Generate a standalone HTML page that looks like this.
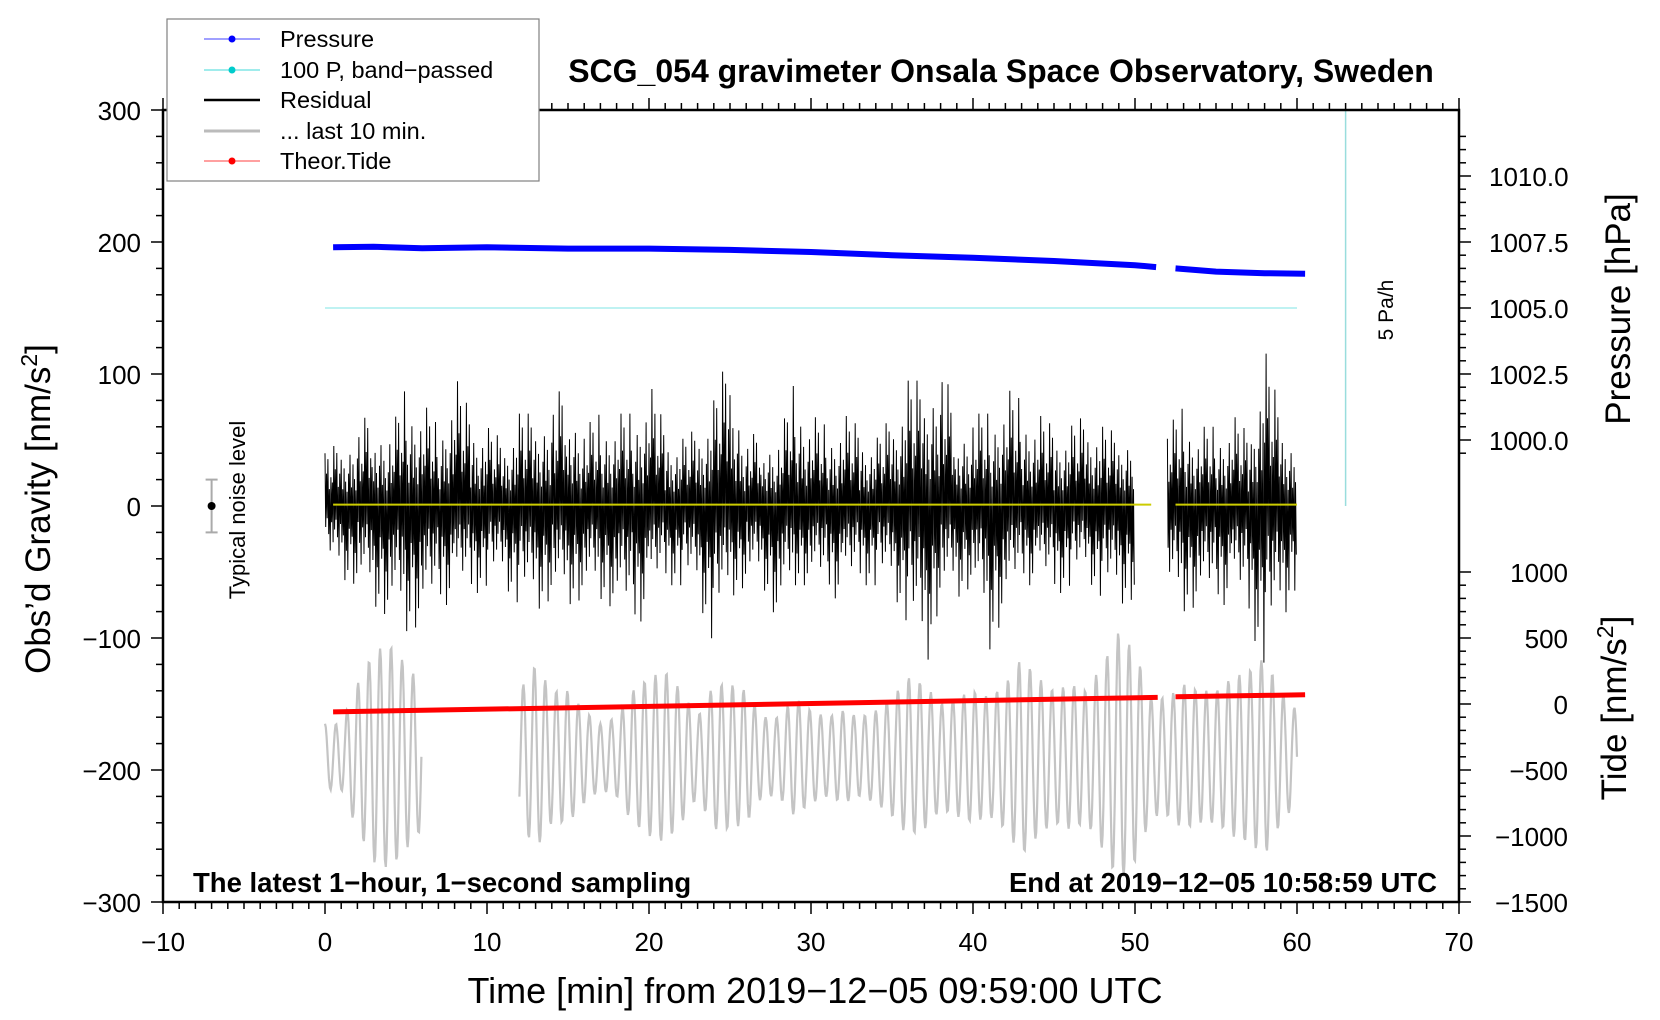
<!DOCTYPE html>
<html><head><meta charset="utf-8">
<style>
html,body{margin:0;padding:0;background:#fff;}
svg{display:block;font-family:"Liberation Sans",sans-serif;}
</style></head>
<body>
<svg id="chart" width="1660" height="1020" viewBox="0 0 1660 1020" xmlns="http://www.w3.org/2000/svg">
<rect width="1660" height="1020" fill="#fff"/>
<g id="marks"></g>
<g id="axes"></g>
<rect x="163" y="110" width="1296" height="792" fill="none" stroke="#000" stroke-width="2.5"/>
<text x="1001" y="82" font-size="32" font-weight="bold" text-anchor="middle">SCG_054 gravimeter Onsala Space Observatory, Sweden</text>
<text x="193" y="892" font-size="27.5" font-weight="bold">The latest 1−hour, 1−second sampling</text>
<text x="1437" y="892" font-size="27.5" font-weight="bold" text-anchor="end">End at 2019−12−05 10:58:59 UTC</text>
<text x="815" y="1003" font-size="36" text-anchor="middle">Time [min] from 2019−12−05 09:59:00 UTC</text>
<text transform="translate(50,509) rotate(-90)" font-size="35" text-anchor="middle">Obs’d Gravity [nm/s<tspan dy="-13" font-size="23">2</tspan><tspan dy="13">]</tspan></text>
<text transform="translate(1630,309) rotate(-90)" font-size="35" text-anchor="middle">Pressure [hPa]</text>
<text transform="translate(1626,708) rotate(-90)" font-size="35" text-anchor="middle">Tide [nm/s<tspan dy="-13" font-size="23">2</tspan><tspan dy="13">]</tspan></text>
<text transform="translate(1393,310) rotate(-90)" font-size="21" text-anchor="middle">5 Pa/h</text>
<text transform="translate(245,510) rotate(-90)" font-size="22" text-anchor="middle">Typical noise level</text>
<g>
<rect x="167" y="19" width="372" height="162" fill="#fff" stroke="#808080" stroke-width="1.2"/>
<g><line x1="204" y1="39" x2="260" y2="39" stroke="#00f" stroke-width="0.8"/><circle cx="232" cy="39" r="3.5" fill="#00f"/><text x="280" y="47" font-size="23.5">Pressure</text></g>
<g><line x1="204" y1="70" x2="260" y2="70" stroke="#0cc" stroke-width="0.8"/><circle cx="232" cy="70" r="3.5" fill="#0cc"/><text x="280" y="78" font-size="23.5">100 P, band−passed</text></g>
<g><line x1="204" y1="100" x2="260" y2="100" stroke="#000" stroke-width="2.5"/><text x="280" y="108" font-size="23.5">Residual</text></g>
<g><line x1="204" y1="131" x2="260" y2="131" stroke="#bbb" stroke-width="3"/><text x="280" y="139" font-size="23.5">... last 10 min.</text></g>
<g><line x1="204" y1="161" x2="260" y2="161" stroke="#f00" stroke-width="0.8"/><circle cx="232" cy="161" r="3.5" fill="#f00"/><text x="280" y="169" font-size="23.5">Theor.Tide</text></g>
</g>
</svg>
<script>
// ---- data ----
const xTicks = [-10,0,10,20,30,40,50,60,70];
const yTicks = [-300,-200,-100,0,100,200,300];
const pressureTicks = [1000.0,1002.5,1005.0,1007.5,1010.0];
const tideTicks = [-1500,-1000,-500,0,500,1000];
// pressure (hPa) at minutes
const pressureTimes = [0.5,3,6,10,15,20,25,30,35,40,45,50,51.3,52.5,55,58,60.5];
const pressureValues = [1007.3,1007.32,1007.26,1007.3,1007.25,1007.25,1007.2,1007.12,1007.0,1006.9,1006.78,1006.62,1006.55,1006.5,1006.38,1006.32,1006.3];
// band-passed pressure (gravity units)
const bandTimes = [0,60];
const bandValues = [150,150];
// residual envelope per minute (upper, lower), NaN = gap
const residMinutes = [0,1,2,3,4,5,6,7,8,9,10,11,12,13,14,15,16,17,18,19,20,21,22,23,24,25,26,27,28,29,30,31,32,33,34,35,36,37,38,39,40,41,42,43,44,45,46,47,48,49,50,51,52,53,54,55,56,57,58,59,60];
const residUpper = [40,50,60,75,55,90,80,60,100,70,60,50,70,70,80,95,60,70,70,70,95,60,50,60,80,120,50,60,50,95,70,60,70,60,50,70,95,95,115,65,70,70,90,80,70,60,60,70,60,55,65,NaN,60,75,60,60,70,55,120,70,50];
const residLower = [-45,-55,-60,-75,-85,-95,-90,-80,-70,-70,-60,-60,-75,-80,-70,-75,-70,-70,-80,-100,-75,-60,-60,-70,-105,-70,-60,-60,-90,-60,-60,-70,-70,-60,-60,-65,-90,-130,-70,-70,-60,-110,-80,-60,-60,-70,-60,-55,-70,-75,-70,NaN,-70,-80,-75,-80,-70,-90,-120,-90,-60];
// last 10 min trace: amplitude per minute around center
const grayMinutes = [0,1,2,3,4,5,6,12,13,14,15,16,17,18,19,20,21,22,23,24,25,26,27,28,29,30,31,32,33,34,35,36,37,38,39,40,41,42,43,44,45,46,47,48,49,50,51,52,53,54,55,56,57,58,59,60];
const grayAmp = [25,25,55,80,85,70,55,50,70,50,50,35,25,30,50,60,65,50,30,55,55,50,30,30,45,35,30,35,30,35,45,60,55,40,45,50,45,55,75,60,50,55,50,70,95,80,45,45,55,50,50,60,65,75,50,35];
const grayCenter = -190;
// theoretical tide (nm/s2)
const tideTimes = [0.5,51.4,52.5,60.5];
const tideValues = [-60,50,55,70];

// ---- axes functions ----
const X0=163, X1=1459, Y0=902, Y1=110;
const xs = t => X0 + (t+10)/80*(X1-X0);
const ys = g => Y0 - (g+300)/600*(Y0-Y1);
const yP = p => ys(50 + 20*(p-1000));
const yT = v => ys(v/10 - 150);

const NS="http://www.w3.org/2000/svg";
const marks=document.getElementById('marks'), axes=document.getElementById('axes');
function mk(tag, attrs, parent){const e=document.createElementNS(NS,tag);for(const k in attrs)e.setAttribute(k,attrs[k]);parent.appendChild(e);return e;}

// ticks
for(let t=-10;t<=70;t++){
  const major = t%10===0;
  const l=mk('line',{x1:xs(t),x2:xs(t),y1:Y0,y2:Y0+(major?12:7),stroke:'#000','stroke-width':1.5},axes);
  
  
  const l2=mk('line',{x1:xs(t),x2:xs(t),y1:Y1,y2:Y1-(major?12:7),stroke:'#000','stroke-width':1.5},axes);
  
  
}
xTicks.forEach(t=>{
  const tx=mk('text',{x:xs(t),y:951,'font-size':26,'text-anchor':'middle'},axes);
  tx.textContent=String(t).replace('-','−');
  
  
});
for(let g=-300;g<=300;g+=20){
  const major=g%100===0;
  const l=mk('line',{x1:X0,x2:X0-(major?12:7),y1:ys(g),y2:ys(g),stroke:'#000','stroke-width':1.5},axes);
  
  
}
yTicks.forEach(g=>{
  const tx=mk('text',{x:141,y:ys(g)+10,'font-size':26,'text-anchor':'end'},axes);
  tx.textContent=String(g).replace('-','−');
  
  
});
for(let p=999.5;p<=1011.5;p+=0.5){
  const major=Math.abs(p % 2.5)<1e-6;
  const l=mk('line',{x1:X1,x2:X1+(major?12:7),y1:yP(p),y2:yP(p),stroke:'#000','stroke-width':1.5},axes);
  
  
}
pressureTicks.forEach(p=>{
  const tx=mk('text',{x:1489,y:yP(p)+10,'font-size':26},axes);
  tx.textContent=p.toFixed(1);
  
  
});
for(let v=-1500;v<=1000;v+=100){
  const major=v%500===0;
  const l=mk('line',{x1:X1,x2:X1+(major?12:7),y1:yT(v),y2:yT(v),stroke:'#000','stroke-width':1.5},axes);
  
  
}
tideTicks.forEach(v=>{
  const tx=mk('text',{x:1568,y:yT(v)+10,'font-size':26,'text-anchor':'end'},axes);
  tx.textContent=String(v).replace('-','−');
  
  
});

// rate indicator line
const rl=mk('line',{x1:xs(63),x2:xs(63),y1:Y1,y2:ys(0),stroke:'#9dd',"stroke-width":1.5},marks);



// noise level marker
const nb=mk('line',{x1:xs(-7),x2:xs(-7),y1:ys(20),y2:ys(-20),stroke:'#aaa','stroke-width':2},marks);


[20,-20].forEach(g=>{const c=mk('line',{x1:xs(-7)-6,x2:xs(-7)+6,y1:ys(g),y2:ys(g),stroke:'#aaa','stroke-width':2},marks);

});
const nd=mk('circle',{cx:xs(-7),cy:ys(0),r:4,fill:'#000'},marks);



// gray last-10-min trace
(function(){
  let segs=[],cur=[];
  for(let i=0;i<grayMinutes.length;i++){
    const t0=grayMinutes[i];
    if(i>0 && t0-grayMinutes[i-1]>1){segs.push(cur);cur=[];}
    if(i===grayMinutes.length-1){cur.push([t0,grayCenter]);break;}
    const t1=grayMinutes[i+1]; if(t1-t0>1) continue;
    for(let s=0;s<20;s++){
      const t=t0+s/20;
      const a=grayAmp[i]+(grayAmp[i+1]-grayAmp[i])*s/20;
      cur.push([t,grayCenter+a*Math.cos(2*Math.PI*t/0.68)]);
    }
  }
  segs.push(cur);
  segs.forEach(sg=>{
    const p=mk('polyline',{points:sg.map(q=>xs(q[0]).toFixed(1)+','+ys(q[1]).toFixed(1)).join(' '),fill:'none',stroke:'#c4c4c4','stroke-width':2.2},marks);
    
    
  });
})();

// residual
(function(){
  const pat=[1,0.35,0.6,0.2,0.85,0.45,0.3,0.7,0.5,0.25,0.4,0.55];
  let segs=[],cur=[];
  for(let i=0;i<residMinutes.length-1;i++){
    if(isNaN(residUpper[i])||isNaN(residUpper[i+1])){ if(cur.length){segs.push(cur);cur=[];} continue;}
    const n=22;
    for(let s=0;s<n;s++){
      const t=residMinutes[i]+s/n;
      const f=pat[(i*7+s)%pat.length];
      const up=residUpper[i]+(residUpper[i+1]-residUpper[i])*s/n;
      const lo=residLower[i]+(residLower[i+1]-residLower[i])*s/n;
      cur.push([t,(s%2===0?up:lo)*f]);
    }
  }
  if(cur.length)segs.push(cur);
  segs.forEach(sg=>{
    const p=mk('polyline',{points:sg.map(q=>xs(q[0]).toFixed(1)+','+ys(q[1]).toFixed(1)).join(' '),fill:'none',stroke:'#000','stroke-width':1},marks);
    
    
  });
  [[0.5,51],[52.5,60]].forEach(r=>{
    const y=mk('line',{x1:xs(r[0]),x2:xs(r[1]),y1:ys(1),y2:ys(1),stroke:'#cc0','stroke-width':2},marks);
    
    
  });
})();

// band-passed
const bl=mk('line',{x1:xs(bandTimes[0]),x2:xs(bandTimes[1]),y1:ys(bandValues[0]),y2:ys(bandValues[1]),stroke:'#aee','stroke-width':1.5},marks);



// pressure / tide
function segLine(times,vals,yf,gapAfter,color,w,name){
  const a=[],b=[];
  times.forEach((t,i)=>{(t<=gapAfter?a:b).push(xs(t).toFixed(1)+','+yf(vals[i]).toFixed(1));});
  [a,b].forEach(pts=>{
    const p=mk('polyline',{points:pts.join(' '),fill:'none',stroke:color,'stroke-width':w},marks);
    
    
  });
}
segLine(pressureTimes,pressureValues,yP,51.5,'#00f',6,'pressure-line');
segLine(tideTimes,tideValues,yT,51.5,'#f00',5,'tide-line');
</script>
</body></html>
